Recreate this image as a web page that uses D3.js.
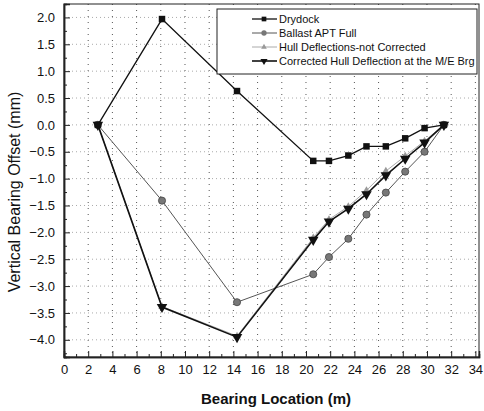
<!DOCTYPE html>
<html>
<head>
<meta charset="utf-8">
<script src="https://cdn.jsdelivr.net/npm/d3@7"></script>
<style>
  html, body { margin: 0; padding: 0; background: #fff; }
  svg { display: block; font-family: Arial, "Liberation Sans", sans-serif; }
</style>
</head>
<body>
<svg id="chart" width="484" height="411"></svg>
<script>
// Bearing positions along the shaft (m)
const bearingX = [2.8, 8.1, 14.3, 20.6, 21.9, 23.5, 25.0, 26.6, 28.2, 29.8, 31.4];

// Vertical bearing offsets (mm) for each condition
const drydock   = [0, 1.97, 0.63, -0.67, -0.67, -0.57, -0.40, -0.40, -0.25, -0.06, 0];
const ballast   = [0, -1.41, -3.30, -2.78, -2.46, -2.12, -1.67, -1.26, -0.87, -0.50, 0];
const hullNotCorr = [0, -3.38, -3.93, -2.10, -1.76, -1.52, -1.22, -0.86, -0.58, -0.30, 0];
const corrected = [0, -3.39, -3.95, -2.14, -1.80, -1.56, -1.29, -0.94, -0.63, -0.33, 0];

const seriesNames = [
  "Drydock",
  "Ballast APT Full",
  "Hull Deflections-not Corrected",
  "Corrected Hull Deflection at the M/E Brg"
];

const xTicks = d3.range(0, 35, 2);
const yTicks = d3.range(-4, 2.01, 0.5);

const svg = d3.select("#chart");
const plotL = 64, plotR = 479, plotT = 4, plotB = 357;

const x = d3.scaleLinear().domain([0, 34.3]).range([plotL, plotR]);
const y = d3.scaleLinear().domain([-4.32, 2.25]).range([plotB, plotT]);

// Dotted grid
const grid = svg.append("g");
grid.selectAll("line.v").data(xTicks.filter(d => d > 0)).join("line")
  .attr("x1", d => x(d)).attr("x2", d => x(d))
  .attr("y1", plotT).attr("y2", plotB)
  .attr("stroke", "#555").attr("stroke-width", 1).attr("stroke-dasharray", "1,5");
grid.selectAll("line.h").data(yTicks).join("line")
  .attr("x1", plotL).attr("x2", plotR)
  .attr("y1", d => y(d)).attr("y2", d => y(d))
  .attr("stroke", "#aaa").attr("stroke-width", 1).attr("stroke-dasharray", "1,3");

// Frame
svg.append("rect")
  .attr("x", plotL).attr("y", plotT)
  .attr("width", plotR - plotL).attr("height", plotB - plotT)
  .attr("fill", "none").attr("stroke", "#222").attr("stroke-width", 1);

// Axes with inward ticks
const xAxis = svg.append("g").attr("transform", `translate(0,${plotB})`)
  .call(d3.axisBottom(x).tickValues(xTicks).tickSize(-6).tickPadding(8).tickFormat(d3.format("d")));
svg.append("g").attr("transform", `translate(0,${plotB})`)
  .call(d3.axisBottom(x).tickValues(d3.range(1, 35, 2)).tickSize(-3).tickFormat(""));
const yAxis = svg.append("g").attr("transform", `translate(${plotL},0)`)
  .call(d3.axisLeft(y).tickValues(yTicks).tickSize(-6).tickPadding(9).tickFormat(d3.format(".1f")));
svg.append("g").attr("transform", `translate(${plotL},0)`)
  .call(d3.axisLeft(y).tickValues(d3.range(-4.25, 2.2, 0.5)).tickSize(-3).tickFormat(""));

svg.selectAll(".domain").attr("stroke", "#222").attr("stroke-width", 1.5);
svg.selectAll(".tick line").attr("stroke", "#222");
xAxis.selectAll("text").attr("font-size", 13).attr("fill", "#111")
  .attr("font-family", "Arial, 'Liberation Sans', sans-serif");
yAxis.selectAll("text").attr("font-size", 13).attr("fill", "#111")
  .attr("font-family", "Arial, 'Liberation Sans', sans-serif");

// Axis titles
svg.append("text")
  .attr("x", 276).attr("y", 404)
  .attr("text-anchor", "middle")
  .attr("font-size", 15).attr("font-weight", "bold").attr("fill", "#111")
  .text("Bearing Location (m)");
svg.append("text")
  .attr("transform", "translate(20,192) rotate(-90)")
  .attr("text-anchor", "middle")
  .attr("font-size", 16).attr("fill", "#111")
  .text("Vertical Bearing Offset (mm)");

// Marker shapes
const sym = {
  square: d3.symbol().type(d3.symbolSquare).size(42),
  circle: d3.symbol().type(d3.symbolCircle).size(40),
  star: d3.symbol().type(d3.symbolTriangle).size(24),
  down: d3.symbol().type(d3.symbolTriangle).size(48)
};

const series = [
  { name: seriesNames[0], values: drydock, color: "#111", width: 1.3, marker: "square", fill: "#111", rot: 0 },
  { name: seriesNames[1], values: ballast, color: "#555", width: 1, marker: "circle", fill: "#777", rot: 0 },
  { name: seriesNames[2], values: hullNotCorr, color: "#aaa", width: 1, marker: "star", fill: "#999", rot: 0 },
  { name: seriesNames[3], values: corrected, color: "#111", width: 1.6, marker: "down", fill: "#111", rot: 180 }
];

const line = d3.line().x(d => x(d[0])).y(d => y(d[1]));

const drawOrder = [2, 1, 0, 3];
drawOrder.forEach(i => {
  const s = series[i];
  const pts = bearingX.map((bx, j) => [bx, s.values[j]]);
  const g = svg.append("g");
  g.append("path").datum(pts)
    .attr("d", line).attr("fill", "none")
    .attr("stroke", s.color).attr("stroke-width", s.width);
  g.selectAll("path.m").data(pts).join("path")
    .attr("transform", d => `translate(${x(d[0])},${y(d[1])}) rotate(${s.rot})`)
    .attr("d", sym[s.marker]())
    .attr("fill", s.fill)
    .attr("stroke", s.marker === "circle" ? "#444" : "none")
    .attr("stroke-width", 0.8);
});

// Legend
const lg = svg.append("g");
lg.append("rect")
  .attr("x", 217).attr("y", 9).attr("width", 260).attr("height", 65)
  .attr("fill", "#fff").attr("stroke", "#222").attr("stroke-width", 1);
const rowY = [19, 33, 47, 61];
series.forEach((s, i) => {
  const ry = rowY[i];
  lg.append("line")
    .attr("x1", 252).attr("x2", 277).attr("y1", ry).attr("y2", ry)
    .attr("stroke", s.color).attr("stroke-width", s.width);
  lg.append("path")
    .attr("transform", `translate(264,${ry}) rotate(${s.rot})`)
    .attr("d", d3.symbol().type(
      s.marker === "square" ? d3.symbolSquare :
      s.marker === "circle" ? d3.symbolCircle : d3.symbolTriangle
    ).size(s.marker === "star" ? 14 : 22)())
    .attr("fill", s.fill);
  lg.append("text")
    .attr("x", 279).attr("y", ry + 4)
    .attr("font-size", 11).attr("fill", "#111")
    .text(s.name);
});
</script>
</body>
</html>
